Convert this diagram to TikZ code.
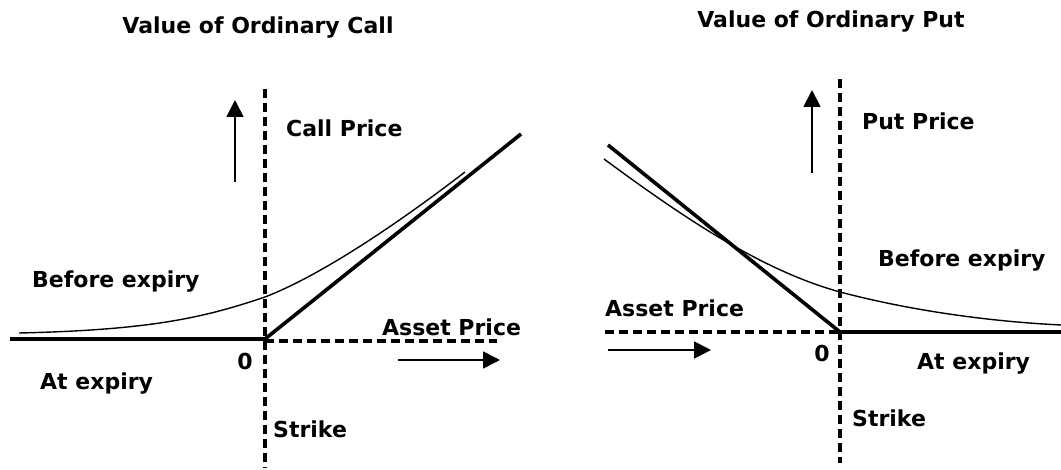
\documentclass[tikz,border=0pt]{standalone}
\usepackage{fontspec}
\setmainfont{DejaVu Sans}
\usepackage{tikz}
\usetikzlibrary{arrows.meta, positioning, calc}

\tikzset{
  payoff/.style={line width=3.6pt, line join=miter},
  premium/.style={line width=1.4pt},
  axisline/.style={line width=3.3pt, dash pattern=on 9pt off 5pt},
  movearrow/.style={line width=1.8pt, -{Triangle[length=17pt, width=17pt]}},
  lbl/.style={inner sep=0pt, anchor=base west},
  ttl/.style={inner sep=0pt, anchor=base}
}

\begin{document}
\begin{tikzpicture}[
  x=1pt, y=-1pt,
  every node/.style={font=\bfseries\fontsize{22}{26}\selectfont}
]
  \useasboundingbox (0,0) rectangle (1061,470);

  % Call panel
  \node[ttl] (calltitle) at (258,34) {Value of Ordinary Call};

  % strike and asset axes
  \coordinate (cstrtop) at (265,89);
  \coordinate (cstrbot) at (265,468);
  \coordinate (cassend) at (497,341);
  \draw[axisline] (cstrtop) -- (cstrbot);
  \draw[axisline] (265,341) -- (cassend);

  % payoff at expiry
  \coordinate (cleft) at (10,339);
  \coordinate (ckink) at (265,339);
  \coordinate (cright) at (521,134);
  \draw[payoff] (cleft) -- (ckink) -- (cright);

  % value before expiry
  \draw[premium] (19,333) .. controls (150,330) and (203,318) .. (265,297)
    .. controls (322,275) and (400,222) .. (465,172);

  % direction arrows
  \coordinate (cupa) at (235,182);
  \coordinate (cupb) at (235,100);
  \draw[movearrow] (cupa) -- (cupb);
  \coordinate (crta) at (398,360);
  \coordinate (crtb) at (500,360);
  \draw[movearrow] (crta) -- (crtb);

  \node[lbl] (callprice) at (286,137) {Call Price};
  \node[lbl] (cbefore) at (32,288) {Before expiry};
  \node[lbl] (casset) at (382,336) {Asset Price};
  \node[ttl] (czero) at (245,370) {0};
  \node[lbl] (catexp) at (40,390) {At expiry};
  \node[lbl] (cstrike) at (273,437) {Strike};

  % Put panel
  \node[ttl] (puttitle) at (831,28) {Value of Ordinary Put};

  % strike and asset axes
  \coordinate (pstrtop) at (840,79);
  \coordinate (pstrbot) at (840,463);
  \coordinate (passbeg) at (605,332);
  \draw[axisline] (pstrtop) -- (pstrbot);
  \draw[axisline] (passbeg) -- (840,332);

  % payoff at expiry
  \coordinate (pleft) at (608,145);
  \coordinate (pkink) at (840,332);
  \coordinate (pright) at (1061,332);
  \draw[payoff] (pleft) -- (pkink) -- (pright);

  % value before expiry
  \draw[premium] (604,159) .. controls (680,215) and (760,270) .. (840,292)
    .. controls (920,313) and (1000,322) .. (1061,325);

  % direction arrows
  \coordinate (pupa) at (812,173);
  \coordinate (pupb) at (812,90);
  \draw[movearrow] (pupa) -- (pupb);
  \coordinate (prta) at (608,350);
  \coordinate (prtb) at (711,350);
  \draw[movearrow] (prta) -- (prtb);

  \node[lbl] (putprice) at (862,130) {Put Price};
  \node[lbl] (pbefore) at (878,267) {Before expiry};
  \node[lbl] (passet) at (605,317) {Asset Price};
  \node[ttl] (pzero) at (822,362) {0};
  \node[lbl] (patexp) at (917,370) {At expiry};
  \node[lbl] (pstrike) at (852,427) {Strike};
\end{tikzpicture}
\end{document}
